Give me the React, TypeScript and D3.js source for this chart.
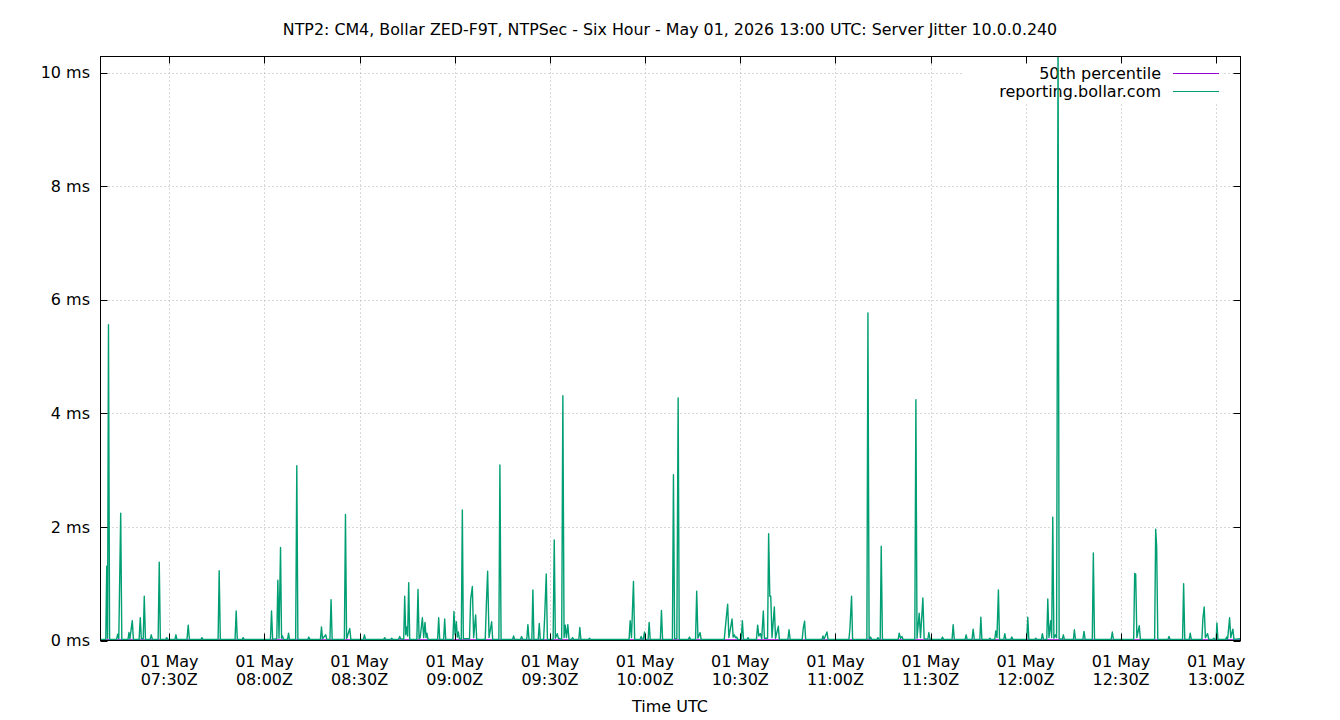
import * as d3 from 'd3';

const title = 'NTP2: CM4, Bollar ZED-F9T, NTPSec - Six Hour - May 01, 2026 13:00 UTC: Server Jitter 10.0.0.240';
const xLabel = 'Time UTC';
const yTicks = [0, 2, 4, 6, 8, 10];
const seriesNames = ['50th percentile', 'reporting.bollar.com'];

// [minute past the hour, jitter ms]
const jitter07: [number, number][] = [
  [8.3, 0.02], [10.0, 0.02], [10.3, 1.31], [10.55, 0.04], [10.85, 5.56], [11.2, 0.02],
  [13.4, 0.02], [13.75, 0.11], [14.1, 0.03], [14.7, 2.24], [15.05, 0.02],
  [17.0, 0.02], [17.3, 0.14], [17.6, 0.03], [18.35, 0.35], [18.7, 0.02],
  [20.5, 0.02], [20.87, 0.4], [21.2, 0.03], [21.8, 0.03], [22.13, 0.78], [22.5, 0.02],
  [24.0, 0.02], [24.33, 0.1], [24.7, 0.02], [26.5, 0.02], [26.85, 1.38], [27.2, 0.02],
  [28.9, 0.02], [29.18, 0.05], [29.5, 0.02], [31.8, 0.02], [32.11, 0.1], [32.4, 0.02],
  [35.6, 0.02], [35.98, 0.27], [36.35, 0.02], [40.0, 0.02], [40.3, 0.05], [40.6, 0.02],
  [45.4, 0.02], [45.74, 1.23], [46.1, 0.02], [50.75, 0.02], [51.1, 0.52], [51.45, 0.02],
  [53.0, 0.02], [53.3, 0.05], [53.6, 0.02],
];

const jitter08: [number, number][] = [
  [1.9, 0.02], [2.24, 0.52], [2.6, 0.02], [3.9, 0.03], [4.23, 1.06], [4.6, 0.04],
  [5.08, 1.64], [5.4, 0.04], [5.71, 0.08], [6.0, 0.02], [7.3, 0.02], [7.6, 0.13], [7.9, 0.02],
  [9.85, 0.02], [10.21, 3.08], [10.55, 0.02], [13.7, 0.02], [13.99, 0.06], [14.3, 0.02],
  [17.65, 0.02], [17.99, 0.24], [18.3, 0.03], [19.34, 0.1], [19.65, 0.02],
  [20.65, 0.02], [21.01, 0.72], [21.35, 0.02], [25.2, 0.02], [25.55, 2.22], [25.9, 0.03],
  [26.9, 0.21], [27.25, 0.02], [31.2, 0.02], [31.53, 0.1], [31.85, 0.02],
  [37.6, 0.02], [37.92, 0.05], [38.2, 0.02], [39.8, 0.02], [40.13, 0.04], [40.45, 0.02],
  [42.3, 0.02], [42.64, 0.07], [42.95, 0.03], [43.9, 0.02], [44.22, 0.78], [44.55, 0.1],
  [44.85, 0.24], [45.15, 0.08], [45.48, 1.02], [45.8, 0.02], [48.05, 0.02], [48.41, 0.9],
  [48.75, 0.03], [49.1, 0.05], [49.79, 0.4], [50.2, 0.05], [50.61, 0.32], [50.95, 0.05],
  [51.24, 0.13], [51.55, 0.02], [54.6, 0.02], [54.93, 0.4], [55.25, 0.02],
  [56.5, 0.02], [56.82, 0.38], [57.15, 0.02], [59.4, 0.02], [59.74, 0.51],
];

const jitter09: [number, number][] = [
  [0.1, 0.1], [0.5, 0.33], [0.8, 0.06], [1.13, 0.15], [1.45, 0.03], [2.05, 0.02], [2.39, 2.3],
  [2.7, 0.03], [4.65, 0.03], [5.0, 0.72], [5.54, 0.95], [5.95, 0.05], [6.58, 0.45], [6.9, 0.02],
  [9.6, 0.02], [9.95, 0.62], [10.36, 1.22], [10.8, 0.05], [11.62, 0.33], [11.95, 0.02],
  [13.9, 0.02], [14.23, 3.09], [14.6, 0.02], [18.2, 0.02], [18.55, 0.08], [18.85, 0.02],
  [20.7, 0.02], [21.06, 0.07], [21.4, 0.02], [22.7, 0.02], [23.05, 0.28], [23.4, 0.02],
  [24.3, 0.02], [24.62, 0.89], [24.95, 0.02], [26.3, 0.02], [26.64, 0.3], [26.95, 0.02],
  [28.0, 0.02], [28.31, 0.38], [28.84, 1.17], [29.2, 0.02], [31.0, 0.02], [31.36, 1.77],
  [31.7, 0.04], [32.3, 0.12], [32.65, 0.04], [33.7, 0.02], [34.07, 4.31], [34.45, 0.05],
  [34.82, 0.27], [35.2, 0.05], [35.64, 0.28], [36.0, 0.02], [36.8, 0.02], [37.12, 0.05],
  [37.45, 0.02], [39.1, 0.02], [39.42, 0.23], [39.75, 0.02], [42.2, 0.02], [42.47, 0.04],
  [42.8, 0.02], [54.95, 0.02], [55.29, 0.35], [55.7, 0.05], [56.33, 1.04], [56.7, 0.02],
  [58.45, 0.02], [58.75, 0.07], [59.1, 0.02], [59.45, 0.02], [59.79, 0.15],
];

const jitter10: [number, number][] = [
  [0.1, 0.02], [0.95, 0.02], [1.27, 0.32], [1.6, 0.02], [4.8, 0.02], [5.15, 0.53], [5.5, 0.02],
  [8.6, 0.02], [8.93, 2.92], [9.3, 0.03], [10.0, 0.03], [10.41, 4.27], [10.75, 0.02],
  [13.65, 0.02], [13.97, 0.06], [14.3, 0.02], [15.9, 0.02], [16.26, 0.87], [16.65, 0.04],
  [17.33, 0.14], [17.65, 0.02], [24.95, 0.02], [25.3, 0.24], [26.02, 0.64], [26.4, 0.05],
  [27.41, 0.38], [27.75, 0.06], [28.13, 0.1], [28.5, 0.05], [28.86, 0.06], [29.2, 0.02],
  [30.3, 0.02], [30.65, 0.35], [31.0, 0.02], [32.15, 0.02], [32.45, 0.05], [32.75, 0.02],
  [35.1, 0.02], [35.47, 0.27], [35.85, 0.08], [36.32, 0.12], [36.75, 0.03], [37.26, 0.52],
  [37.6, 0.04], [38.6, 0.04], [38.93, 1.88], [39.3, 0.78], [39.6, 0.78], [40.0, 0.05],
  [40.73, 0.59], [41.1, 0.04], [41.99, 0.25], [42.3, 0.02], [45.0, 0.02], [45.36, 0.19],
  [45.7, 0.02], [49.5, 0.02], [49.86, 0.22], [50.27, 0.34], [50.6, 0.02],
  [55.75, 0.02], [56.06, 0.08], [56.4, 0.02], [57.32, 0.15], [57.65, 0.02],
];

const jitter11: [number, number][] = [
  [4.25, 0.02], [4.57, 0.22], [5.07, 0.78], [5.4, 0.02], [9.9, 0.02], [10.23, 5.77],
  [10.6, 0.02], [11.05, 0.06], [11.4, 0.02], [13.1, 0.02], [13.39, 0.05], [13.7, 0.02],
  [14.1, 0.02], [14.42, 1.66], [14.8, 0.02], [19.75, 0.02], [20.09, 0.13], [20.5, 0.04],
  [20.94, 0.07], [21.3, 0.02], [25.0, 0.02], [25.35, 4.24], [25.7, 0.04], [26.39, 0.48],
  [26.8, 0.05], [27.55, 0.75], [27.95, 0.03], [29.1, 0.02], [29.44, 0.14], [29.8, 0.02],
  [33.4, 0.02], [33.73, 0.06], [34.05, 0.02], [36.75, 0.02], [37.1, 0.28], [37.45, 0.02],
  [40.85, 0.02], [41.19, 0.1], [41.5, 0.02], [43.05, 0.02], [43.4, 0.2], [43.75, 0.02],
  [45.5, 0.02], [45.82, 0.41], [46.15, 0.02], [48.35, 0.02], [48.66, 0.04], [49.0, 0.02],
  [50.2, 0.02], [50.54, 0.17], [50.9, 0.05], [51.36, 0.89], [51.7, 0.02],
  [53.05, 0.02], [53.38, 0.12], [53.7, 0.02], [55.25, 0.02], [55.58, 0.06], [55.9, 0.02],
];

const jitter12: [number, number][] = [
  [0.3, 0.02], [0.62, 0.41], [0.95, 0.02], [2.8, 0.02], [3.14, 0.04], [3.45, 0.02],
  [4.9, 0.02], [5.22, 0.12], [5.55, 0.02], [6.6, 0.02], [6.92, 0.73], [7.3, 0.05],
  [7.86, 0.35], [8.15, 0.05], [8.49, 2.17], [8.85, 0.04], [9.31, 0.1], [9.7, 0.05],
  [10.16, 10.6], [10.5, 0.03], [11.5, 0.02], [11.83, 0.1], [12.15, 0.02],
  [15.0, 0.02], [15.3, 0.19], [15.65, 0.02], [18.0, 0.02], [18.35, 0.16], [18.7, 0.02],
  [20.95, 0.02], [21.28, 1.54], [21.65, 0.02], [26.9, 0.02], [27.26, 0.15], [27.6, 0.02],
  [34.0, 0.02], [34.31, 1.18], [34.63, 1.17], [35.0, 0.05], [35.76, 0.26], [36.1, 0.02],
  [40.6, 0.02], [40.93, 1.96], [41.24, 1.66], [41.6, 0.02], [44.8, 0.02], [45.12, 0.07],
  [45.45, 0.02], [49.4, 0.02], [49.74, 1.0], [50.1, 0.02], [51.5, 0.02], [51.82, 0.13],
  [52.15, 0.02], [55.5, 0.02], [55.82, 0.39], [56.23, 0.59], [56.6, 0.05], [57.3, 0.12],
  [57.65, 0.02], [58.95, 0.02], [59.28, 0.04], [59.6, 0.02],
];

const jitter13: [number, number][] = [
  [0.0, 0.02], [0.23, 0.31], [0.55, 0.02], [3.0, 0.02], [3.29, 0.06], [3.6, 0.02],
  [4.23, 0.4], [4.6, 0.05], [5.26, 0.2], [5.6, 0.02], [7.5, 0.03],
];

const percentile50: [string, number][] = [
  ['07:08', 0.012], ['13:08', 0.012],
];

const hours: [number, [number, number][]][] = [
  [7, jitter07], [8, jitter08], [9, jitter09], [10, jitter10],
  [11, jitter11], [12, jitter12], [13, jitter13],
];

type Pt = { t: Date; v: number };

const jitter: Pt[] = hours.flatMap(([h, rows]) =>
  rows.map(([m, v]) => ({ t: new Date(Date.UTC(2026, 4, 1, h, 0, 0) + m * 60000), v }))
);
const p50: Pt[] = percentile50.map(([s, v]) => {
  const [h, m] = s.split(':').map(Number);
  return { t: new Date(Date.UTC(2026, 4, 1, h, m)), v };
});

const width = 1340;
const height = 720;
const left = 100.5;
const right = 1240.5;
const top = 56.5;
const bottom = 640.5;
const font = '"DejaVu Sans", sans-serif';

export default function App() {
  const x = d3
    .scaleUtc()
    .domain([new Date(Date.UTC(2026, 4, 1, 7, 8, 20)), new Date(Date.UTC(2026, 4, 1, 13, 7, 40))])
    .range([left, right]);
  const y = d3.scaleLinear().domain([0, 10.285]).range([bottom, top]);

  const xTicks = x.ticks(d3.utcMinute.every(30)!);
  const fmtDay = d3.utcFormat('%d %b');
  const fmtTime = d3.utcFormat('%H:%MZ');

  const line = d3
    .line<Pt>()
    .x((d) => x(d.t))
    .y((d) => y(d.v));

  return (
    <svg
      width={width}
      height={height}
      style={{ position: 'absolute', left: 0, top: 0, background: '#fff' }}
      fontFamily={font}
      fontSize={16}
    >
      <rect width={width} height={height} fill="#fff" />
      <defs>
        <clipPath id="plot">
          <rect x={left} y={top} width={right - left} height={bottom - top} />
        </clipPath>
      </defs>

      {/* grid */}
      <g stroke="#b0b0b0" strokeWidth={1} strokeDasharray="1,3">
        {xTicks.map((t) => (
          <line key={+t} x1={Math.round(x(t)) + 0.5} x2={Math.round(x(t)) + 0.5} y1={top} y2={bottom} />
        ))}
        {yTicks.slice(1).map((v) => (
          <line key={v} x1={left} x2={right} y1={Math.round(y(v)) + 0.5} y2={Math.round(y(v)) + 0.5} />
        ))}
      </g>

      {/* legend (drawn under the data, like gnuplot) */}
      <g>
        <rect x={962} y={62} width={262} height={40} fill="#fff" />
        {seriesNames.map((name, i) => (
          <g key={name} transform={`translate(0,${73.5 + i * 18})`}>
            <text x={1161} dy="0.35em" textAnchor="end" fill="#000">
              {name}
            </text>
            <line x1={1173} x2={1219} y1={0} y2={0} stroke={i === 0 ? '#9400d3' : '#009e73'} strokeWidth={1} />
          </g>
        ))}
      </g>

      {/* series */}
      <g clipPath="url(#plot)" fill="none">
        <path d={line(p50) ?? ''} stroke="#9400d3" strokeWidth={1.2} />
        <path d={line(jitter) ?? ''} stroke="#009e73" strokeWidth={1.4} strokeLinejoin="round" />
      </g>

      {/* ticks */}
      <g stroke="#000" strokeWidth={1}>
        {xTicks.map((t) => {
          const px = Math.round(x(t)) + 0.5;
          return (
            <g key={+t}>
              <line x1={px} x2={px} y1={bottom} y2={bottom - 7} />
              <line x1={px} x2={px} y1={top} y2={top + 7} />
            </g>
          );
        })}
        {yTicks.map((v) => {
          const py = Math.round(y(v)) + 0.5;
          return (
            <g key={v}>
              <line x1={left} x2={left + 7} y1={py} y2={py} />
              <line x1={right} x2={right - 7} y1={py} y2={py} />
            </g>
          );
        })}
      </g>

      <rect x={left} y={top} width={right - left} height={bottom - top} fill="none" stroke="#000" strokeWidth={1} />

      {/* labels */}
      {yTicks.map((v) => (
        <text key={v} x={90} y={y(v)} dy="0.35em" textAnchor="end" fill="#000">
          {`${v} ms`}
        </text>
      ))}
      {xTicks.map((t) => (
        <text key={+t} x={x(t)} textAnchor="middle" fill="#000">
          <tspan x={x(t)} y={667}>
            {fmtDay(t)}
          </tspan>
          <tspan x={x(t)} y={685}>
            {fmtTime(t)}
          </tspan>
        </text>
      ))}
      <text x={670} y={712} textAnchor="middle" fill="#000">
        {xLabel}
      </text>
      <text x={670} y={35} textAnchor="middle" fill="#000" fontSize={15.85}>
        {title}
      </text>
    </svg>
  );
}
